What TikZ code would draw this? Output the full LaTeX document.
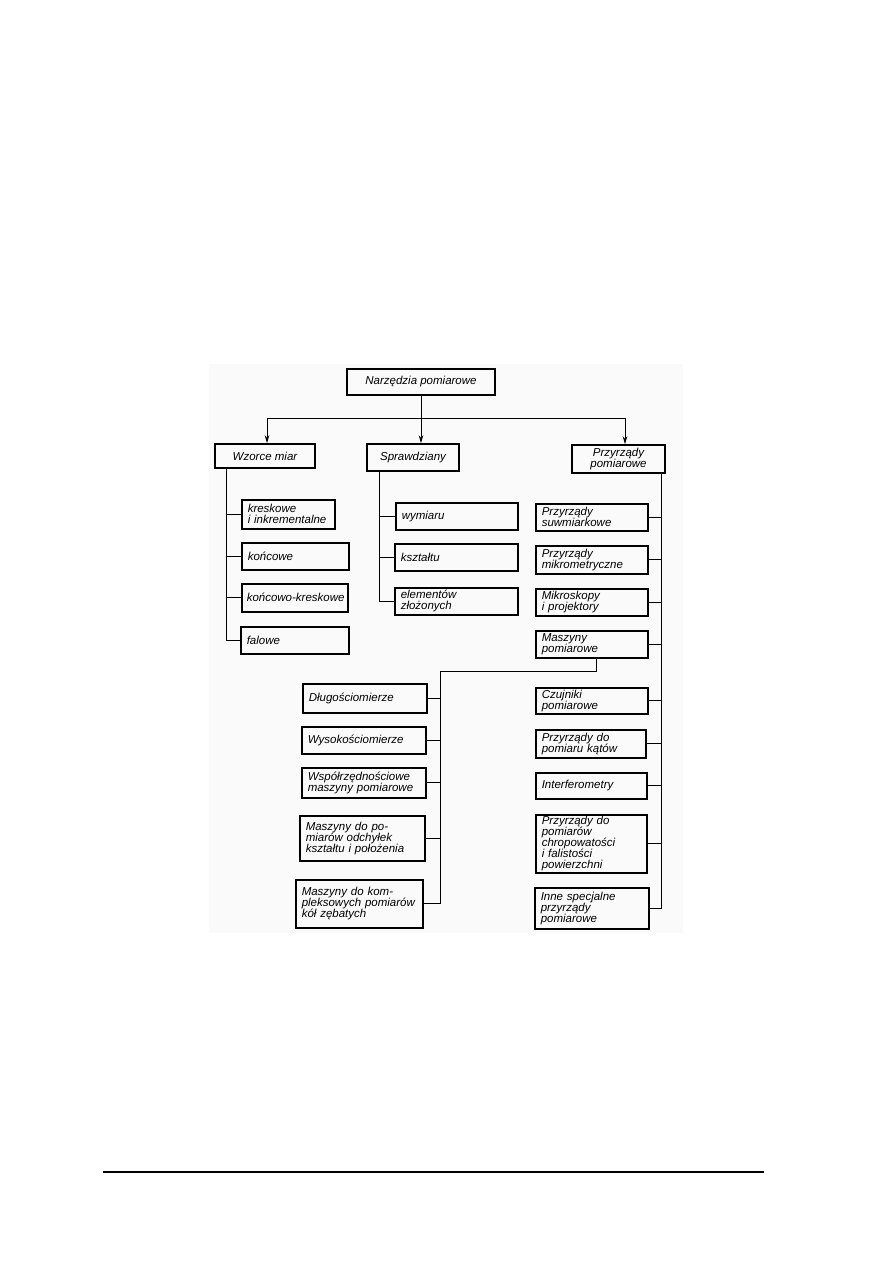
\documentclass[tikz,border=0pt]{standalone}
\usepackage{fontspec}
\setmainfont{Liberation Sans}
\usetikzlibrary{arrows.meta}
\tikzset{
  box/.style={draw, line width=1.5pt, inner xsep=6pt, inner ysep=0.5pt, anchor=north west, align=left,
    font=\fontsize{11.5}{11}\selectfont\itshape},
  head/.style={box, anchor=center, align=center},
  arr/.style={-{Stealth[length=8pt,width=4.5pt]}}
}
\begin{document}
\begin{tikzpicture}[x=1pt, y=-1pt, line width=1pt]
  \useasboundingbox (0,0) rectangle (893,1263);
  \fill[black!2] (209,364) rectangle (683,933);
  \node[head, minimum width=148pt, minimum height=26pt] (narz) at (421,382) {Narzędzia pomiarowe};
  \node[head, minimum width=100pt, minimum height=24pt] (wzorce) at (265,456) {Wzorce miar};
  \node[head, minimum width=92pt, minimum height=27pt] (spraw) at (413,457.5) {Sprawdziany};
  \node[head, minimum width=93pt, minimum height=28pt] (przyrz) at (618.5,459) {Przyrządy\\pomiarowe};
  \node[box, text width=81pt, minimum height=29pt] (kresk) at (241,499) {kreskowe\\i inkrementalne};
  \node[box, text width=95pt, minimum height=27pt] (konc) at (241,542) {końcowe};
  \node[box, text width=96pt, minimum height=28pt, inner xsep=5pt] (konckr) at (241,583) {\mbox{końcowo-kreskowe}};
  \node[box, text width=96pt, minimum height=27pt] (fal) at (240,626) {falowe};
  \node[box, text width=110pt, minimum height=27pt] (wym) at (395,502) {wymiaru};
  \node[box, text width=111pt, minimum height=27pt] (ksz) at (394,543) {kształtu};
  \node[box, text width=111pt, minimum height=27pt] (elem) at (394,587) {elementów\\złożonych};
  \node[box, text width=100pt, minimum height=27pt] (suw) at (535,503) {Przyrządy\\suwmiarkowe};
  \node[box, text width=100pt, minimum height=28pt] (mikro) at (535,545) {Przyrządy\\mikrometryczne};
  \node[box, text width=100pt, minimum height=27pt] (mikros) at (535,588) {Mikroskopy\\i projektory};
  \node[box, text width=100pt, minimum height=27pt] (masz) at (535,630) {Maszyny\\pomiarowe};
  \node[box, text width=100pt, minimum height=26pt] (czuj) at (535,687) {Czujniki\\pomiarowe};
  \node[box, text width=98pt, minimum height=28pt] (katow) at (535,729) {Przyrządy do\\pomiaru kątów};
  \node[box, text width=99pt, minimum height=26pt] (interf) at (535,772) {Interferometry};
  \node[box, text width=99pt, minimum height=58pt] (chrop) at (535,814) {Przyrządy do\\pomiarów\\chropowatości\\i falistości\\powierzchni};
  \node[box, text width=102pt, minimum height=41pt] (inne) at (534,887) {Inne specjalne\\przyrządy\\pomiarowe};
  \node[box, text width=112pt, minimum height=29pt] (dlug) at (302,683) {Długościomierze};
  \node[box, text width=112pt, minimum height=27pt] (wys) at (301,726) {Wysokościomierze};
  \node[box, text width=112pt, minimum height=30pt] (wsp) at (301,767) {Współrzędnościowe\\maszyny pomiarowe};
  \node[box, text width=113pt, minimum height=45pt] (odch) at (299,815) {Maszyny do po-\\miarów odchyłek\\kształtu i położenia};
  \node[box, text width=115pt, minimum height=48pt] (kompl) at (295,879) {Maszyny do kom-\\\mbox{pleksowych pomiarów}\\kół zębatych};
  \coordinate (split) at (421,418);
  \coordinate (mknee) at (440,671);
  \draw[arr] (narz.south) -- (spraw.north -| narz.south);
  \draw[arr] (split) -| ([xshift=2pt]wzorce.north);
  \draw[arr] (split) -| ([xshift=6.5pt]przyrz.north);
  \foreach \n in {kresk,konc,konckr,fal} { \draw ([xshift=12pt]wzorce.south west) |- (\n.west); }
  \foreach \n in {wym,ksz,elem} { \draw ([xshift=13pt]spraw.south west) |- (\n.west); }
  \foreach \n in {suw,mikro,mikros,masz,czuj,katow,interf,chrop,inne} { \draw ([xshift=-4pt]przyrz.south east) |- (\n.east); }
  \draw ([xshift=5pt]masz.south) |- (mknee);
  \foreach \n in {dlug,wys,wsp,odch,kompl} { \draw (mknee) |- (\n.east); }
  \draw[line width=1.3pt] (103,1172) -- (764,1172);
\end{tikzpicture}
\end{document}
